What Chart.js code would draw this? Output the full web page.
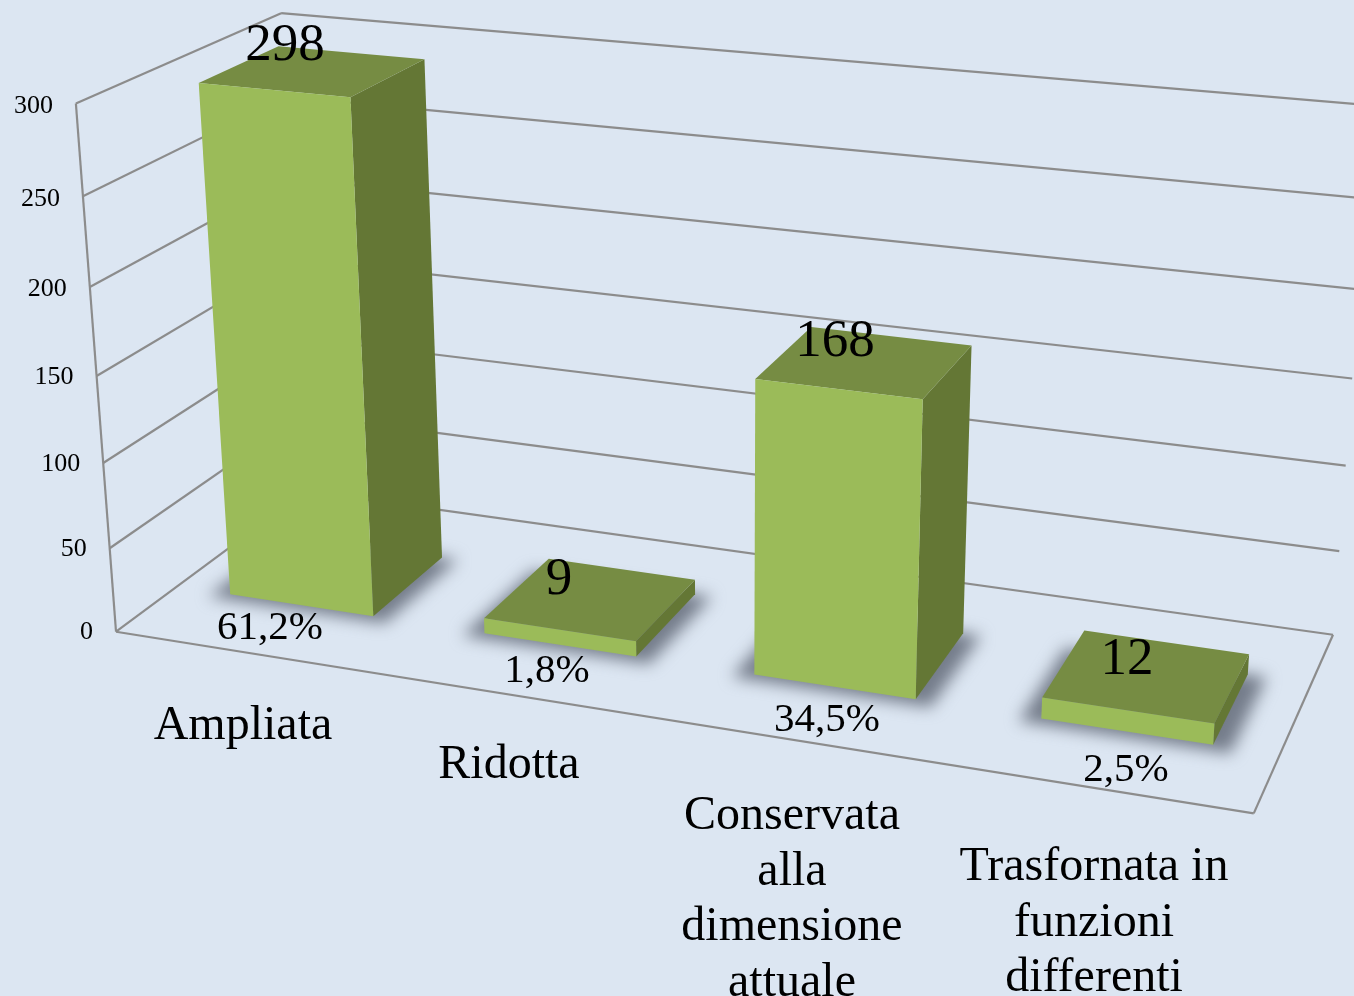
<!DOCTYPE html>
<html><head><meta charset="utf-8">
<script src="https://cdn.jsdelivr.net/npm/chart.js@4"></script>
<style>html,body{margin:0;padding:0;background:#DCE6F2;overflow:hidden}canvas{display:block}</style>
</head><body><canvas id="c" width="1354" height="996"></canvas>
<script>
const categories = ['Ampliata','Ridotta',['Conservata','alla','dimensione','attuale'],['Trasfornata in','funzioni','differenti']];
const counts = [298, 9, 168, 12];
const percents = ['61,2%','1,8%','34,5%','2,5%'];
const yMax = 300, yStep = 50;

// frame calibration: world (x across, v up, z deep; all 0..1) -> page pixel
const frame = [
 [0,0,0,115,632],[1,0,0,1254,813],[0,0,1,307,491],[1,0,1,1333,635],
 [0,1,0,76,104],[0,1,1,280,13],[1,1,1,1373,105],[1,.5,1,1352,379],
 [1,1/6,1,1339,551],[0,1/6,0,109,548],[0,.5,0,97,376],[0,5/6,0,84,196]];
const zFront = 0.30, zBack = 0.70;
const countPos = [[285,60],[559,594],[835,356],[1127,674]];
const pctPos = [[270,639],[547,682],[827,731],[1126,781]];
const catPos = [[243,739],[509,778],[792,829],[1094,880]];
const C = {bg:'#DCE6F2',front:'#9BBB59',top:'#768C43',side:'#647735',line:'#8C8C8C',text:'#000',shadow:'#747c8a'};
const SERIF = '"Liberation Serif","Times New Roman",serif';

function solve(A,b){const n=b.length;A=A.map((r,i)=>[...r,b[i]]);
 for(let i=0;i<n;i++){let p=i;for(let k=i+1;k<n;k++)if(Math.abs(A[k][i])>Math.abs(A[p][i]))p=k;[A[i],A[p]]=[A[p],A[i]];
  for(let k=i+1;k<n;k++){const f=A[k][i]/A[i][i];for(let j=i;j<=n;j++)A[k][j]-=f*A[i][j];}}
 const x=Array(n).fill(0);for(let i=n-1;i>=0;i--){let s=A[i][n];for(let j=i+1;j<n;j++)s-=A[i][j]*x[j];x[i]=s/A[i][i];}return x;}
function fit(pts){const R=[],B=[];pts.forEach(([X,Y,Z,u,v])=>{u/=1000;v/=1000;
  R.push([X,Y,Z,1,0,0,0,0,-u*X,-u*Y,-u*Z]);B.push(u);R.push([0,0,0,0,X,Y,Z,1,-v*X,-v*Y,-v*Z]);B.push(v);});
 const N=Array.from({length:11},(_,i)=>Array.from({length:11},(_,j)=>R.reduce((s,r)=>s+r[i]*r[j],0)));
 const T=Array.from({length:11},(_,i)=>R.reduce((s,r,k)=>s+r[i]*B[k],0));return solve(N,T);}
const P=fit(frame);
function proj(x,v,z){const w=P[8]*x+P[9]*v+P[10]*z+1;return [1000*(P[0]*x+P[1]*v+P[2]*z+P[3])/w,1000*(P[4]*x+P[5]*v+P[6]*z+P[7])/w];}
function poly(ctx,pts,fill){ctx.beginPath();pts.forEach((p,i)=>i?ctx.lineTo(p[0],p[1]):ctx.moveTo(p[0],p[1]));ctx.closePath();ctx.fillStyle=fill;ctx.fill();}
function seg(ctx,a,b){ctx.beginPath();ctx.moveTo(a[0],a[1]);ctx.lineTo(b[0],b[1]);ctx.stroke();}

const threeD={id:'threeD',
 beforeDatasetDraw(chart){
  const ctx=chart.ctx,a=chart.chartArea,ys=chart.scales.y;
  const U=px=>(px-a.left)/a.width, V=py=>(a.bottom-py)/a.height;
  ctx.save();
  // walls and gridlines from the value scale
  ctx.strokeStyle=C.line;ctx.lineWidth=2.2;ctx.lineJoin='miter';
  ys.ticks.forEach(t=>{const v=V(ys.getPixelForValue(t.value));seg(ctx,proj(0,v,0),proj(0,v,1));seg(ctx,proj(0,v,1),proj(1,v,1));});
  seg(ctx,proj(0,0,0),proj(0,1,0));
  seg(ctx,proj(0,0,0),proj(1,0,0));seg(ctx,proj(1,0,0),proj(1,0,1));
  const meta=chart.getDatasetMeta(0);
  const rects=meta.data.map(el=>({x0:U(el.x-el.width/2),x1:U(el.x+el.width/2),v:V(el.y)}));
  // soft floor shadows
  rects.forEach(r=>{ctx.save();ctx.filter='blur(8px)';
   poly(ctx,[proj(r.x0-.016,0,zFront-.03),proj(r.x1+.016,0,zFront-.03),proj(r.x1+.016,0,zBack),proj(r.x0-.016,0,zBack)],C.shadow);ctx.restore();});
  // solid bars
  rects.forEach(r=>{
   const f=(x,v)=>proj(x,v,zFront),b=(x,v)=>proj(x,v,zBack);
   poly(ctx,[f(r.x1,0),b(r.x1,0),b(r.x1,r.v),f(r.x1,r.v)],C.side);
   poly(ctx,[f(r.x0,r.v),f(r.x1,r.v),b(r.x1,r.v),b(r.x0,r.v)],C.top);
   poly(ctx,[f(r.x0,0),f(r.x1,0),f(r.x1,r.v),f(r.x0,r.v)],C.front);
  });
  // text
  ctx.fillStyle=C.text;ctx.textBaseline='alphabetic';
  ctx.font='26px '+SERIF;ctx.textAlign='right';
  ys.ticks.forEach(t=>{const v=V(ys.getPixelForValue(t.value)),p=proj(0,v,0);ctx.fillText(String(t.value),p[0]-23,p[1]+7+3*v);});
  ctx.textAlign='center';
  ctx.font='53px '+SERIF;counts.forEach((n,i)=>ctx.fillText(String(n),countPos[i][0],countPos[i][1]));
  ctx.font='41px '+SERIF;percents.forEach((s,i)=>ctx.fillText(s,pctPos[i][0],pctPos[i][1]));
  ctx.font='48px '+SERIF;chart.data.labels.forEach((l,i)=>{[].concat(l).forEach((s,k)=>ctx.fillText(s,catPos[i][0],catPos[i][1]+k*55.5));});
  ctx.restore();
  return false;
 }};

new Chart(document.getElementById('c'),{
 type:'bar',
 data:{labels:categories,datasets:[{label:'Risposte',data:counts,backgroundColor:C.front,barPercentage:.57,categoryPercentage:1}]},
 options:{responsive:false,animation:false,layout:{padding:0},
  plugins:{legend:{display:false},tooltip:{enabled:false}},
  scales:{x:{display:false},y:{display:false,min:0,max:yMax,ticks:{stepSize:yStep}}}},
 plugins:[threeD]});
</script></body></html>
